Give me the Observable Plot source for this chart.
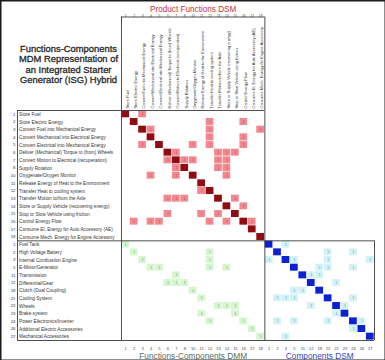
<!DOCTYPE html>
<html><head><meta charset="utf-8">
<script src="https://cdn.jsdelivr.net/npm/d3@7"></script>
<script src="https://cdn.jsdelivr.net/npm/@observablehq/plot@0.6"></script>
<style>
html,body{margin:0;padding:0;background:#fff;}
#chart{width:385px;height:360px;}
svg{display:block;}
</style></head><body><div id="chart"></div>
<script>
// ---------- data ----------
const functionIds = [1,2,3,4,5,6,7,8,10,11,12,13,14,15,16,17,18];
const functionNames = [
  "Store Fuel",
  "Store Electric Energy",
  "Convert Fuel into Mechanical Energy",
  "Convert Mechanical into Electrical Energy",
  "Convert Electrical into Mechanical Energy",
  "Deliver (Mechanical) Torque to (from) Wheels",
  "Convert Motion to Electrical (recuperation)",
  "Supply Rotation",
  "Oxygenate/Oxygen Monitor",
  "Release Energy of Heat to the Environment",
  "Transfer Heat to cooling system",
  "Transfer Motion to/from the Axle",
  "Store or Supply Vehicle (recovering energy)",
  "Stop or Slow Vehicle using friction",
  "Control Energy Flow",
  "Consume El. Energy for Auto Accessory (AE)",
  "Consume Mech. Energy for Engine Accessory"
];
const componentIds = [1,2,3,5,11,12,18,21,22,23,24,26,27];
const componentNames = [
  "Fuel Tank","High Voltage Battery","Internal Combustion Engine","E-Motor/Generator",
  "Transmission","Differential/Gear","Clutch (Dual Coupling)","Cooling System","Wheels",
  "Brake system","Power Electronics/Inverter","Additional Electric Accessories","Mechanical Accessories"
];
// Product Functions DSM links [function row, function column]
const functionLinks = [
  [0,2],[1,10],[1,14],[2,3],[2,10],[2,16],[3,10],[3,14],[4,2],[4,8],[4,10],[4,14],
  [5,6],[5,11],[5,12],[5,13],[6,5],[6,7],[6,8],[6,11],[6,12],[7,6],[7,11],[7,12],
  [8,3],[8,6],[8,12],[10,9],[11,5],[11,6],[11,7],[11,13],[12,14],[13,5],[13,9],[13,11],
  [14,1],[14,3],[14,4],[14,10],[14,12],[14,15]
];
// Functions-Components DMM links [component row, function column]
const dmmLinks = [
  [0,0],[1,1],[1,10],[2,2],[2,10],[3,3],[3,4],[3,10],[3,12],[4,6],[5,5],[5,6],[5,7],
  [6,8],[7,9],[8,11],[8,12],[8,13],[9,9],[9,13],[10,10],[10,14],[11,15],[12,16]
];
// Components DSM links [component row, component column]
const componentLinks = [
  [0,2],[1,7],[1,10],[2,0],[2,3],[2,7],[2,12],[3,6],[3,7],[3,10],[4,5],[4,6],[5,8],
  [6,3],[6,4],[7,1],[7,2],[7,3],[7,10],[8,5],[8,9],[9,8],[10,1],[10,3],[10,7],[10,11],
  [11,10],[12,2]
];
const titleLines = ["Functions-Components","MDM Representation of","an Integrated Starter","Generator (ISG) Hybrid"];
const blockTitles = {top:"Product Functions DSM", dmm:"Functions-Components DMM", comp:"Components DSM"};

// ---------- layout ----------
const W = 385, H = 360;
const GRID_LEFT = 121, GRID_RIGHT = 374, GRID_TOP = 110, GRID_BOTTOM = 340;
const LABEL_LEFT = 17, HEADER_TOP = 16.5;
const nF = functionIds.length, nC = componentIds.length, N = nF + nC;
const CW = (GRID_RIGHT - GRID_LEFT) / N, RH = (GRID_BOTTOM - GRID_TOP) / N;
const labelEdge = (LABEL_LEFT - GRID_LEFT) / CW;
const headerEdge = (HEADER_TOP - GRID_TOP) / RH;

const colors = {fdiag:"#8f0d10", flink:"#f3878f", dmm:"#d5f6cf", cdiag:"#0c22d2", clink:"#d2f2f6"};
const textCol = {flink:"#b44", dmm:"#5aa05a", clink:"#4a90aa"};

const cells = [];
functionIds.forEach((_, i) => cells.push({r:i, c:i, kind:"fdiag"}));
functionLinks.forEach(([r,c]) => cells.push({r, c, kind:"flink"}));
dmmLinks.forEach(([r,c]) => cells.push({r:nF+r, c, kind:"dmm"}));
componentIds.forEach((_, i) => cells.push({r:nF+i, c:nF+i, kind:"cdiag"}));
componentLinks.forEach(([r,c]) => cells.push({r:nF+r, c:nF+c, kind:"clink"}));
const links = cells.filter(d => d.kind !== "fdiag" && d.kind !== "cdiag");

const rows = [
  ...functionIds.map((id,i) => ({idx:i, id, name:functionNames[i]})),
  ...componentIds.map((id,i) => ({idx:nF+i, id, name:componentNames[i]}))
];
const cols = rows;

const hLines = [
  {y:headerEdge, x1:0, x2:nF},
  {y:0, x1:labelEdge, x2:nF},
  {y:nF, x1:labelEdge, x2:N},
  {y:N, x1:labelEdge, x2:N}
];
const vLines = [
  {x:0, y1:headerEdge, y2:N},
  {x:nF, y1:headerEdge, y2:N},
  {x:labelEdge, y1:0, y2:N},
  {x:N, y1:nF, y2:N}
];

const FONT = "'Liberation Sans', Arial, sans-serif";

const chart = Plot.plot({
  width: W, height: H, margin: 0,
  x: {type:"linear", domain:[0,N], range:[GRID_LEFT, GRID_RIGHT], axis:null},
  y: {type:"linear", domain:[0,N], range:[GRID_TOP, GRID_BOTTOM], axis:null},
  style: {fontFamily: FONT, background:"#fff"},
  marks: [
    Plot.rect(cells, {x1:"c", x2:d => d.c + 1, y1:"r", y2:d => d.r + 1,
      fill:d => colors[d.kind], inset:0.35}),
    Plot.text(links, {x:d => d.c + 0.5, y:d => d.r + 0.5, text:() => "1",
      fill:d => textCol[d.kind], fontSize:3.4}),
    Plot.ruleY(hLines, {y:"y", x1:"x1", x2:"x2", stroke:"#3a3a3a", strokeWidth:0.9}),
    Plot.ruleX(vLines, {x:"x", y1:"y1", y2:"y2", stroke:"#3a3a3a", strokeWidth:0.9}),
    // row labels
    Plot.text(rows, {y:d => d.idx + 0.5, text:"name", frameAnchor:"left", dx:LABEL_LEFT + 1.5,
      textAnchor:"start", fontSize:4.7, fill:"#333"}),
    Plot.text(rows, {y:d => d.idx + 0.5, text:"id", frameAnchor:"left", dx:LABEL_LEFT - 2,
      textAnchor:"end", fontSize:4.3, fill:"#333"}),
    // column labels (functions) in header
    Plot.text(cols.slice(0, nF), {x:d => d.idx + 0.5, text:"name", frameAnchor:"top", dy:GRID_TOP - 2,
      rotate:-90, textAnchor:"start", fontSize:4.0, fill:"#333"}),
    // top tick numbers
    Plot.text(cols.slice(0, nF), {x:d => d.idx + 0.5, text:"id", frameAnchor:"top", dy:14.2,
      fontSize:3.3, fill:"#444"}),
    // bottom tick numbers
    Plot.text(cols, {x:d => d.idx + 0.5, text:"id", frameAnchor:"top", dy:GRID_BOTTOM + 7,
      fontSize:4.0, fill:"#444"}),
    // block titles
    Plot.text([blockTitles.top], {x:nF / 2, frameAnchor:"top", dy:6, text:d => d,
      fontSize:8.2, fill:"#c8323a"}),
    Plot.text([blockTitles.dmm], {x:nF / 2, frameAnchor:"top", dy:352.5, text:d => d,
      fontSize:8.3, fill:"#566e5a"}),
    Plot.text([blockTitles.comp], {x:nF + nC / 2, frameAnchor:"top", dy:352.5, text:d => d,
      fontSize:8.3, fill:"#3a3fc0"}),
    // main title
    Plot.text([titleLines.join("\n")], {frameAnchor:"top-left", dx:68, dy:44, text:d => d,
      textAnchor:"middle", lineAnchor:"top", lineHeight:1.1, fontSize:9.4,
      fill:"#262626", stroke:"#262626", strokeWidth:0.3}),
    Plot.frame({stroke:"#1a1a1a", strokeWidth:2})
  ]
});
document.getElementById("chart").appendChild(chart);
</script></body></html>
